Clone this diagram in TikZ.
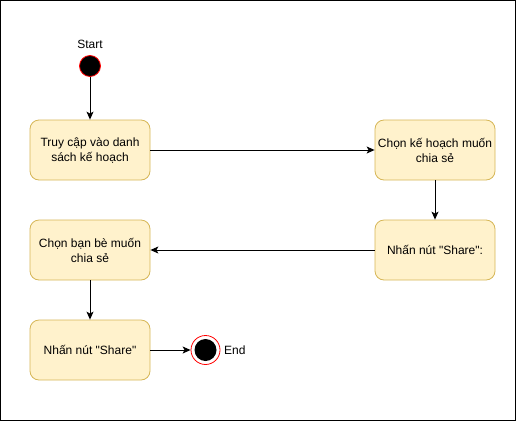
\documentclass[tikz,border=0pt]{standalone}
\usepackage{fontspec}
\setmainfont{Liberation Sans}[Ligatures=TeXOff]
\usetikzlibrary{arrows.meta}
\definecolor{boxfill}{HTML}{FFF2CC}
\definecolor{boxdraw}{HTML}{D6B656}
\definecolor{ringred}{HTML}{FF0000}
\tikzset{
  stepbox/.style={draw=boxdraw, fill=boxfill, rounded corners=9pt, minimum width=120pt, minimum height=60pt, align=center, font=\fontsize{12pt}{15pt}\selectfont, inner sep=2pt, line width=0.8pt},
  conn/.style={draw=black, line width=0.9pt, -{Stealth[length=8pt,width=7pt,inset=2pt]}},
  lbl/.style={font=\fontsize{12pt}{14pt}\selectfont, inner sep=0pt}
}
\begin{document}
\begin{tikzpicture}[x=1pt,y=-1pt]
\useasboundingbox (0,0) rectangle (516,421);
\draw[line width=1.2pt] (0.6,0.6) rectangle (515.4,420.4);
\node[lbl] (startlbl) at (90,44) {Start};
\node[circle, draw=ringred, fill=black, minimum size=21pt, inner sep=0pt, line width=0.8pt] (start) at (90,66) {};
\node[stepbox] (b1) at (90,150) {Truy cập vào danh\\sách kế hoạch};
\node[stepbox] (b2) at (435,150) {Chọn kế hoạch muốn\\chia sẻ};
\node[stepbox] (b3) at (435,250) {Nhấn nút "Share":};
\node[stepbox] (b4) at (90,250) {Chọn bạn bè muốn\\chia sẻ};
\node[stepbox] (b5) at (90,350) {Nhấn nút "Share"};
\node[circle, draw=ringred, fill=white, minimum size=29pt, inner sep=0pt, line width=0.8pt] (endc) at (205.5,350) {};
\node[circle, fill=black, minimum size=22pt, inner sep=0pt] (endin) at (205.5,350) {};
\node[lbl, anchor=west] (endlbl) at (224,350) {End};
\draw[conn] (start) -- (b1);
\draw[conn] (b1) -- (b2);
\draw[conn] (b2) -- (b3);
\draw[conn] (b3) -- (b4);
\draw[conn] (b4) -- (b5);
\draw[conn] (b5) -- (endc);
\end{tikzpicture}
\end{document}
